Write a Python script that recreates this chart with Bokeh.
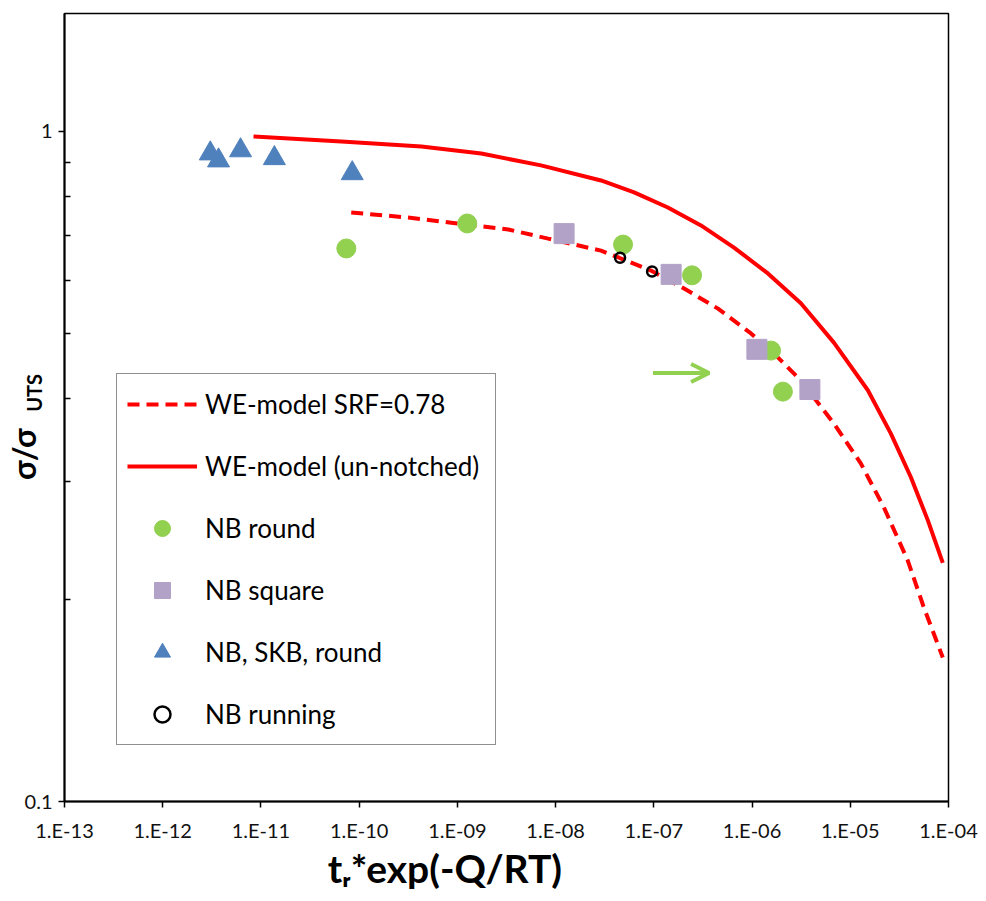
from bokeh.plotting import figure
from bokeh.models import (Range1d, FixedTicker, Legend, LegendItem, Arrow, LogAxis,
                          OpenHead, CustomJSTickFormatter)
from bokeh.embed import file_html
from bokeh.resources import INLINE

# ---- axis ticks and titles ----
x_ticks = [1e-13, 1e-12, 1e-11, 1e-10, 1e-9, 1e-8, 1e-7, 1e-6, 1e-5, 1e-4]
x_tick_labels = ["1.E-13", "1.E-12", "1.E-11", "1.E-10", "1.E-09", "1.E-08",
                 "1.E-07", "1.E-06", "1.E-05", "1.E-04"]
y_ticks = [0.1, 1.0]
y_tick_labels = ["0.1", "1"]
y_minor_ticks = [0.2, 0.3, 0.4, 0.5, 0.6, 0.7, 0.8, 0.9]
x_title = "tᵣ*exp(-Q/RT)"
y_title = "σ/σ"
y_title_sub = "UTS"

# ---- model curves ----
srf_x = [8.3e-11, 3.15e-10, 8.65e-10, 3.3e-9, 8.4e-9, 2.90e-8, 4.43e-8, 9.35e-8,
         2.03e-7, 4.50e-7, 9.75e-7, 1.83e-6, 3.14e-6, 6.81e-6, 1.28e-5, 2.20e-5,
         3.85e-5, 5.61e-5, 8.75e-5]
srf_y = [0.757, 0.744, 0.731, 0.714, 0.692, 0.664, 0.648, 0.620,
         0.583, 0.544, 0.4995, 0.460, 0.425, 0.3665, 0.3196, 0.2747,
         0.2289, 0.1948, 0.164]

unnotched_x = [8.4e-12, 6.6e-11, 4.3e-10, 1.75e-9, 7.1e-9, 2.90e-8, 6.30e-8, 1.39e-7,
               3.02e-7, 6.55e-7, 1.45e-6, 3.14e-6, 6.81e-6, 1.51e-5, 2.59e-5, 4.13e-5,
               6.15e-5, 8.75e-5]
unnotched_y = [0.983, 0.966, 0.950, 0.927, 0.890, 0.845, 0.811, 0.770,
               0.724, 0.671, 0.614, 0.554, 0.484, 0.411, 0.354, 0.305,
               0.263, 0.227]

# ---- test data ----
round_x = [7.4e-11, 1.26e-9, 4.86e-8, 2.45e-7, 1.56e-6, 2.06e-6]
round_y = [0.669, 0.729, 0.678, 0.610, 0.471, 0.409]

square_x = [1.22e-8, 1.50e-7, 1.12e-6, 3.88e-6]
square_y = [0.704, 0.612, 0.473, 0.412]

skb_x = [3.05e-12, 3.7e-12, 6.2e-12, 1.37e-11, 8.5e-11]
skb_y = [0.927, 0.905, 0.937, 0.912, 0.866]

running_x = [4.53e-8, 9.6e-8]
running_y = [0.648, 0.618]

arrow_x = [9.8e-8, 3.65e-7]
arrow_y = [0.436, 0.436]

FONT = "Lato"
NBSP = "\u00a0"

p = figure(width=986, height=901, x_axis_type="log", y_axis_type="log",
           x_range=Range1d(1e-13, 1e-4), y_range=Range1d(0.1, 1.5),
           output_backend="svg", toolbar_location=None,
           min_border_left=63, min_border_right=38, min_border_top=13,
           min_border_bottom=100)

p.xgrid.visible = False
p.ygrid.visible = False
p.outline_line_color = "black"
p.outline_line_width = 1.5
p.background_fill_color = "white"
p.border_fill_color = "white"

fmt_code = """
let best = 0, bd = 1e9;
for (let i = 0; i < vals.length; i++) {
  const d = Math.abs(Math.log10(tick) - Math.log10(vals[i]));
  if (d < bd) { bd = d; best = i; }
}
return labs[best];
"""

p.xaxis.ticker = FixedTicker(ticks=x_ticks)
p.xaxis.formatter = CustomJSTickFormatter(args=dict(vals=x_ticks, labs=x_tick_labels), code=fmt_code)
p.yaxis.ticker = FixedTicker(ticks=y_ticks, minor_ticks=y_minor_ticks)
p.yaxis.formatter = CustomJSTickFormatter(args=dict(vals=y_ticks, labs=y_tick_labels), code=fmt_code)

for ax in (p.xaxis, p.yaxis):
    ax.axis_line_color = "black"
    ax.axis_line_width = 2
    ax.major_tick_line_color = "black"
    ax.major_tick_line_width = 1.5
    ax.minor_tick_line_color = "black"
    ax.minor_tick_line_width = 1.5
    ax.major_label_text_font = FONT
    ax.major_label_text_font_size = "20px"
    ax.major_label_text_color = "#111111"
    ax.axis_label_text_font = FONT
    ax.axis_label_text_font_style = "bold"
    ax.axis_label_text_color = "black"

p.xaxis.major_tick_out = 6
p.xaxis.major_tick_in = 0
p.xaxis.minor_tick_out = 0
p.xaxis.minor_tick_in = 0
p.xaxis.major_label_standoff = 10
# title shifted left of centre with trailing no-break spaces
p.xaxis.axis_label = x_title + NBSP * 13
p.xaxis.axis_label_text_font_size = "39px"
p.xaxis.axis_label_standoff = 0

p.yaxis.major_tick_out = 6
p.yaxis.major_tick_in = 0
p.yaxis.minor_tick_out = 0
p.yaxis.minor_tick_in = 6
p.yaxis.major_label_standoff = 6
p.yaxis.axis_label = y_title + NBSP * 12
p.yaxis.axis_label_text_font_size = "32px"
p.yaxis.axis_label_standoff = -21

# subscript "UTS" of the y title, as a tick-less outer axis
uts_axis = LogAxis(axis_label=NBSP * 6 + y_title_sub, axis_label_standoff=-45,
                   axis_label_text_font=FONT, axis_label_text_font_style="bold",
                   axis_label_text_font_size="20px", axis_label_text_color="black",
                   ticker=FixedTicker(ticks=[]), axis_line_color=None,
                   major_tick_line_color=None, minor_tick_line_color=None,
                   major_tick_out=0, major_tick_in=0, minor_tick_out=0, minor_tick_in=0,
                   major_label_standoff=0, major_label_text_font_size="0px")
p.add_layout(uts_axis, "left")

RED = "#FF0000"
r_srf = p.line(srf_x, srf_y, line_color=RED, line_width=4, line_dash="12 7")
r_un = p.line(unnotched_x, unnotched_y, line_color=RED, line_width=4)
r_round = p.scatter(round_x, round_y, marker="circle", size=19,
                    fill_color="#92D050", line_color="#92D050")
r_sq = p.scatter(square_x, square_y, marker="square", size=20,
                 fill_color="#B3A2C7", line_color="#B3A2C7")
r_tri = p.scatter(skb_x, skb_y, marker="triangle", size=22,
                  fill_color="#4F81BD", line_color="#4F81BD")
r_run = p.scatter(running_x, running_y, marker="circle", size=10,
                  fill_color=None, line_color="black", line_width=2.5)

p.add_layout(Arrow(x_start=arrow_x[0], y_start=arrow_y[0], x_end=arrow_x[1], y_end=arrow_y[1],
                   line_color="#92D050", line_width=4,
                   end=OpenHead(size=18, line_color="#92D050", line_width=4)))

legend = Legend(items=[
    LegendItem(label="WE-model SRF=0.78", renderers=[r_srf]),
    LegendItem(label="WE-model (un-notched)", renderers=[r_un]),
    LegendItem(label="NB round", renderers=[r_round]),
    LegendItem(label="NB square", renderers=[r_sq]),
    LegendItem(label="NB, SKB, round", renderers=[r_tri]),
    LegendItem(label="NB running", renderers=[r_run]),
], location=(52, 56), glyph_width=70, glyph_height=40, label_standoff=8,
    label_width=280, spacing=22, padding=10, margin=0,
    label_text_font=FONT, label_text_font_size="26px", label_text_color="black",
    border_line_color="#222222", border_line_width=1.2,
    background_fill_color="white", background_fill_alpha=1.0)
p.add_layout(legend)

open("out.html", "w").write(file_html(p, INLINE))
